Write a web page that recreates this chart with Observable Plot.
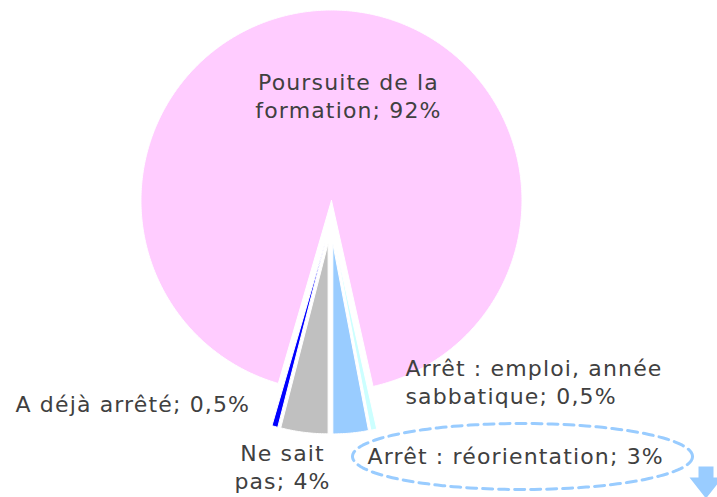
<!DOCTYPE html>
<html><head><meta charset="utf-8">
<script src="https://cdn.jsdelivr.net/npm/d3@7"></script>
<script src="https://cdn.jsdelivr.net/npm/@observablehq/plot@0.6"></script>
<style>html,body{margin:0;padding:0;background:#fff;overflow:hidden}</style>
</head><body><div id="chart"></div>
<script>
// ---- data ----
const categories = ["Poursuite de la formation", "Arrêt : emploi, année sabbatique", "Arrêt : réorientation", "Ne sait pas", "A déjà arrêté"];
const shares = [92, 0.5, 3, 4, 0.5];
const labels = ["Poursuite de la\nformation; 92%", "Arrêt : emploi, année\nsabbatique; 0,5%", "Arrêt : réorientation; 3%", "Ne sait\npas; 4%", "A déjà arrêté; 0,5%"];

// ---- style / layout ----
const colors = ["#FFCCFF", "#CCFFFF", "#99CCFF", "#C0C0C0", "#0000FF"];
const W = 717, H = 497, CX = 330.3, CY = 221.5, R = 190.5, EXPLODE = 21.5;
const START_DEG = 196.2;
// label anchor points in pixels (x, baseline of last line)
const labelPos = [
  {x: 348, y: 117, anchor: "middle"},
  {x: 405, y: 403, anchor: "start"},
  {x: 367, y: 463, anchor: "start"},
  {x: 282, y: 488, anchor: "middle"},
  {x: 15,  y: 411, anchor: "start"}
];
const ellipse = {cx: 522, cy: 456, rx: 170, ry: 33};
const arrowPx = [[698,466],[713,466],[713,477],[722,477],[705.5,498],[689,477],[698,477],[698,466]];

const ux = px => (px - CX) / R;
const uy = py => (CY - py) / R;
const rad = Math.PI / 180;

const pie = d3.pie().sort(null).value(d => d.share)
  .startAngle(START_DEG * rad).endAngle(START_DEG * rad + 2 * Math.PI);
const rows = categories.map((c, i) => ({name: c, share: shares[i], color: colors[i]}));
const arcs = pie(rows);

const slicePts = [];
arcs.forEach((a, i) => {
  const mid = (a.startAngle + a.endAngle) / 2;
  const ox = Math.sin(mid) * EXPLODE / R, oy = Math.cos(mid) * EXPLODE / R;
  const n = Math.max(2, Math.ceil((a.endAngle - a.startAngle) / (0.5 * rad)));
  const pts = [[0, 0]];
  for (let k = 0; k <= n; k++) {
    const t = a.startAngle + (a.endAngle - a.startAngle) * k / n;
    pts.push([Math.sin(t), Math.cos(t)]);
  }
  pts.push([0, 0]);
  pts.forEach(([x, y]) => slicePts.push({k: i, x: x + ox, y: y + oy, color: a.data.color}));
});

const ellPts = d3.range(0, 361, 2).map(d => ({
  x: ux(ellipse.cx + ellipse.rx * Math.cos(d * rad)),
  y: uy(ellipse.cy + ellipse.ry * Math.sin(d * rad))
}));
const arrowPts = arrowPx.map(([x, y]) => ({x: ux(x), y: uy(y)}));
const labelRows = labels.map((t, i) => ({text: t, x: ux(labelPos[i].x), y: uy(labelPos[i].y), anchor: labelPos[i].anchor}));

const textOpts = {fontSize: 22, fontFamily: "DejaVu Sans", fill: "#404040", lineHeight: 1.23, lineAnchor: "bottom"};

const chart = Plot.plot({
  width: W, height: H, margin: 0,
  style: {background: "white", letterSpacing: "1.15px", overflow: "hidden"},
  x: {domain: [-1, 1], range: [CX - R, CX + R], axis: null},
  y: {domain: [-1, 1], range: [CY + R, CY - R], axis: null},
  color: {type: "identity"},
  marks: [
    Plot.line(slicePts, {x: "x", y: "y", z: "k", fill: "color", stroke: "white", strokeWidth: 1, strokeLinejoin: "miter", curve: "linear"}),
    Plot.line(ellPts, {x: "x", y: "y", stroke: "#99CCFF", strokeWidth: 3, strokeDasharray: "10,6"}),
    Plot.line(arrowPts, {x: "x", y: "y", fill: "#99CCFF", stroke: "none"}),
    Plot.text(labelRows.filter(d => d.anchor === "start"), {x: "x", y: "y", text: "text", textAnchor: "start", ...textOpts}),
    Plot.text(labelRows.filter(d => d.anchor === "middle"), {x: "x", y: "y", text: "text", textAnchor: "middle", ...textOpts})
  ]
});
document.getElementById("chart").append(chart);
</script>
</body></html>
